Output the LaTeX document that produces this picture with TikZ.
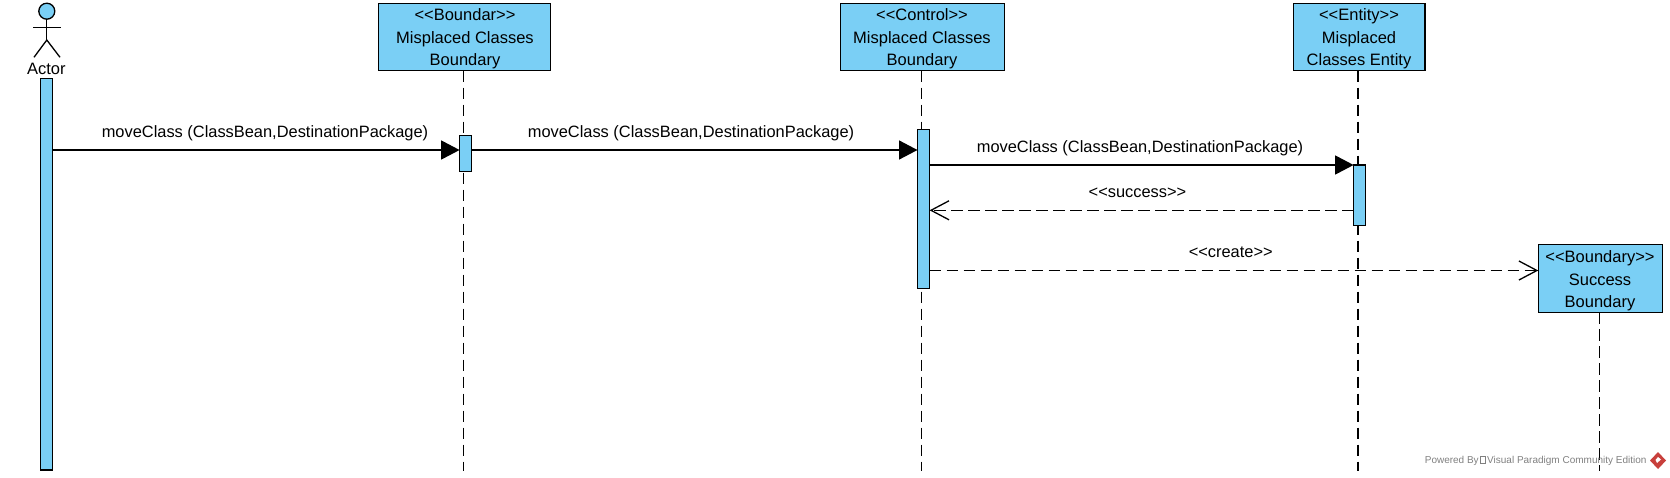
\documentclass[tikz,border=0pt]{standalone}
\usepackage{fontspec}
\setmainfont{Liberation Sans}
\usetikzlibrary{positioning, arrows.meta}
\usepackage{xcolor}
\definecolor{vpblue}{HTML}{7ACFF5}
\definecolor{vpred}{HTML}{C8403C}
\newcommand{\stereo}[1]{<{}<#1>{}>}

\tikzset{
	lifebox/.style={draw, line width=1.3pt, fill=vpblue, anchor=north west, inner sep=0pt, outer sep=0pt, align=center},
	actbar/.style={draw, line width=1.3pt, fill=vpblue, inner sep=0pt, outer sep=0pt, anchor=north west},
	lifeline/.style={line width=1.6pt, dash pattern=on 11.5pt off 5.5pt},
	callmsg/.style={line width=1.5pt, -{Triangle[length=18.5pt,width=19pt]}},
	backmsg/.style={line width=1.6pt, dash pattern=on 11.5pt off 5.5pt, -{Straight Barb[length=18pt,width=19pt,line width=1.3pt]}},
	msglabel/.style={font=\fontsize{16.4}{18}\selectfont, text height=12pt, text depth=3.5pt},
	boxline/.style={font=\fontsize{16.5}{18}\selectfont, text height=12pt, text depth=3.5pt}
}

\begin{document}
\begin{tikzpicture}[x=1pt,y=-1pt]
	\useasboundingbox (0,0) rectangle (1670,477);
	% Lifelines
	\coordinate (boundarEnd) at (463.6,471);
	\coordinate (controlEnd) at (921.4,471);
	\coordinate (entityEnd) at (1358.2,471);
	\coordinate (successEnd) at (1599.3,471);
	\node[lifebox, minimum width=172.1pt, minimum height=67.4pt] (boundar) at (378.6,3.3) {};
	\node[lifebox, minimum width=164.2pt, minimum height=67.4pt] (control) at (840.4,3.3) {};
	\node[lifebox, minimum width=131.8pt, minimum height=67.4pt] (entity) at (1293.2,3.3) {};
	\node[lifebox, minimum width=124.4pt, minimum height=68pt] (success) at (1538.3,244.3) {};
	\draw[lifeline] (463.6,70.7) -- (boundarEnd);
	\draw[lifeline] (921.4,70.7) -- (controlEnd);
	\draw[lifeline] (1358.2,70.7) -- (entityEnd);
	\draw[lifeline] (1599.3,312.3) -- (successEnd);
	% Box texts
	\node[boxline] (boundarA) at (465,16) {\stereo{Boundar}};
	\node[boxline] (boundarB) at (465,39) {Misplaced Classes};
	\node[boxline] (boundarC) at (465,61.2) {Boundary};
	\node[boxline] (controlA) at (922,16) {\stereo{Control}};
	\node[boxline] (controlB) at (922,39) {Misplaced Classes};
	\node[boxline] (controlC) at (922,61.2) {Boundary};
	\node[boxline] (entityA) at (1359,16) {\stereo{Entity}};
	\node[boxline] (entityB) at (1359,39) {Misplaced};
	\node[boxline] (entityC) at (1359,61.2) {Classes Entity};
	\node[boxline] (successA) at (1600,258.5) {\stereo{Boundary}};
	\node[boxline] (successB) at (1600,281.5) {Success};
	\node[boxline] (successC) at (1600,303.5) {Boundary};
	% Actor
	\draw[line width=1.3pt, fill=vpblue] (46.8,11.2) circle (8);
	\draw[line width=1.3pt] (46.8,19.2) -- (46.8,40);
	\draw[line width=1.3pt] (33,27.3) -- (60.7,27.3);
	\draw[line width=1.3pt] (34,57.3) -- (46.8,40) -- (60,57.3);
	\node[boxline] (actor) at (46.4,70.5) {Actor};
	% Activations
	\node[actbar, minimum width=12pt, minimum height=391.7pt] (actorBar) at (40.4,78.3) {};
	\node[actbar, minimum width=11.8pt, minimum height=36.4pt] (boundarBar) at (459.6,135.3) {};
	\node[actbar, minimum width=12.1pt, minimum height=159pt] (controlBar) at (917.5,129.3) {};
	\node[actbar, minimum width=12pt, minimum height=60.3pt] (entityBar) at (1353.6,165) {};
	% Messages
	\coordinate (m1a) at (actorBar.east |- 0,150);
	\coordinate (m1b) at (boundarBar.west |- 0,150);
	\coordinate (m2a) at (boundarBar.east |- 0,150);
	\coordinate (m2b) at (controlBar.west |- 0,150);
	\coordinate (m3a) at (controlBar.east |- 0,165);
	\coordinate (m3b) at (entityBar.west |- 0,165);
	\coordinate (m4a) at (entityBar.west |- 0,210.3);
	\coordinate (m4b) at (controlBar.east |- 0,210.3);
	\coordinate (m5a) at (controlBar.east |- 0,270.5);
	\coordinate (m5b) at (success.west |- 0,270.5);
	\draw[callmsg] (m1a) -- (m1b);
	\draw[callmsg] (m2a) -- (m2b);
	\draw[callmsg] (m3a) -- (m3b);
	\draw[backmsg] (m4a) -- (m4b);
	\draw[backmsg] (m5a) -- (m5b);
	% Labels
	\node[msglabel] (l1) at (265,133) {moveClass (ClassBean,DestinationPackage)};
	\node[msglabel] (l2) at (691,133) {moveClass (ClassBean,DestinationPackage)};
	\node[msglabel] (l3) at (1140,148) {moveClass (ClassBean,DestinationPackage)};
	\node[msglabel] (l4) at (1137.5,193.2) {\stereo{success}};
	\node[msglabel] (l5) at (1230.7,253.5) {\stereo{create}};
	% Watermark
	\node[text=black!50, font=\fontsize{10}{12}\selectfont, anchor=east, inner sep=0pt] (credit) at (1646.7,460.7) {Powered By\,{\fboxsep=0pt\fboxrule=0.3pt\fbox{\rule{4.5pt}{0pt}\rule{0pt}{7pt}}}\,Visual Paradigm Community Edition};
	\fill[vpred] (1658,452) -- (1666,460.5) -- (1658,469) -- (1650,460.5) -- cycle;
	\fill[white] (1658,457) -- (1661,459.5) -- (1657,463) -- (1655.5,460) -- cycle;
\end{tikzpicture}
\end{document}
